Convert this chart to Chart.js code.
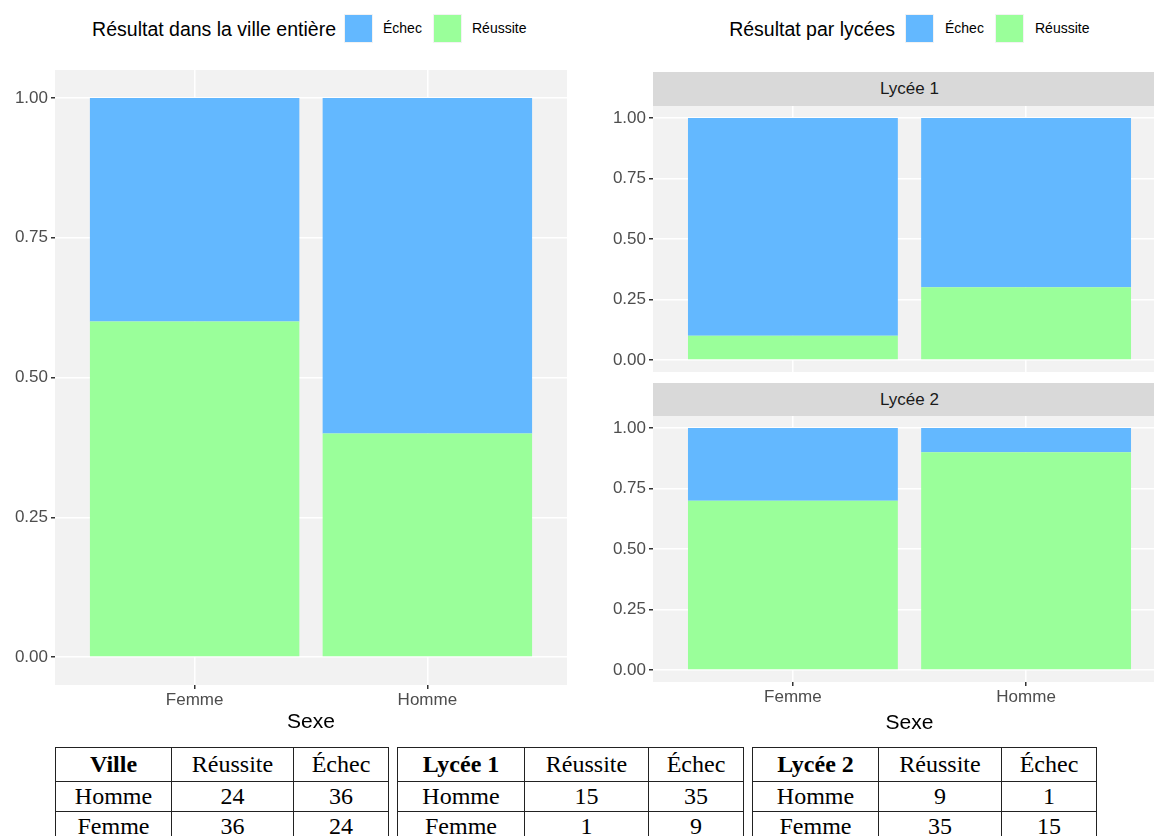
<!DOCTYPE html>
<html lang="fr">
  <head>
    <meta charset="UTF-8" />
    <title>Résultats par sexe</title>
    <script src="https://cdn.jsdelivr.net/npm/chart.js"></script>
    <style>
      html,
      body {
        margin: 0;
        width: 1154px;
        height: 836px;
        overflow: hidden;
        background: #fff;
        font-family: "Liberation Sans", Arial, sans-serif;
      }
      .box {
        position: absolute;
      }
      .ltitle {
        position: absolute;
        top: 16px;
        font-size: 19.5px;
        line-height: 26px;
        text-align: right;
        color: #000;
      }
      .key {
        position: absolute;
        top: 14px;
        width: 29px;
        height: 29px;
        box-sizing: border-box;
        border: 1px solid #f2f2f2;
      }
      .klab {
        position: absolute;
        top: 19px;
        font-size: 14px;
        line-height: 18px;
        color: #000;
      }
      .strip {
        position: absolute;
        left: 653px;
        width: 513px;
        height: 34px;
        line-height: 34px;
        background: #d9d9d9;
        color: #1a1a1a;
        font-size: 17px;
        text-align: center;
      }
      table {
        position: absolute;
        top: 747px;
        border-collapse: collapse;
        font-family: "Liberation Serif", "DejaVu Serif", serif;
        font-size: 24px;
        color: #000;
      }
      td {
        border: 1.3px solid #222;
        text-align: center;
        padding: 0;
        height: 29px;
        line-height: 29px;
      }
      tr:first-child td {
        height: 33px;
      }
      td.head {
        font-weight: bold;
      }
    </style>
  </head>
  <body>
    <!-- legends -->
    <div class="ltitle" style="left: 0; width: 336px">Résultat dans la ville entière</div>
    <div class="key" style="left: 344px; background: #63b8ff"></div>
    <div class="klab" style="left: 383px">Échec</div>
    <div class="key" style="left: 433px; background: #9aff9a"></div>
    <div class="klab" style="left: 472px">Réussite</div>

    <div class="ltitle" style="left: 600px; width: 295px">Résultat par lycées</div>
    <div class="key" style="left: 905px; background: #63b8ff"></div>
    <div class="klab" style="left: 945px">Échec</div>
    <div class="key" style="left: 995px; background: #9aff9a"></div>
    <div class="klab" style="left: 1035px">Réussite</div>

    <!-- charts -->
    <div class="box" style="left: 0; top: 70px; width: 567px; height: 665px">
      <canvas id="ville"></canvas>
    </div>
    <div class="strip" style="top: 72px">Lycée 1</div>
    <div class="box" style="left: 598px; top: 106px; width: 568px; height: 266px">
      <canvas id="lycee1"></canvas>
    </div>
    <div class="strip" style="top: 383px">Lycée 2</div>
    <div class="box" style="left: 598px; top: 416px; width: 568px; height: 320px">
      <canvas id="lycee2"></canvas>
    </div>

    <!-- tables -->
    <table id="tabVille" style="left: 55px"></table>
    <table id="tabL1" style="left: 397px"></table>
    <table id="tabL2" style="left: 752px"></table>

    <script>
      // données
      const sexes = ["Femme", "Homme"];
      const villeReussite = [0.6, 0.4];
      const villeEchec = [0.4, 0.6];
      const lycee1Reussite = [0.1, 0.3];
      const lycee1Echec = [0.9, 0.7];
      const lycee2Reussite = [0.7, 0.9];
      const lycee2Echec = [0.3, 0.1];
      const yTicks = [0, 0.25, 0.5, 0.75, 1];

      // tableaux d'effectifs
      const colonnes = ["Réussite", "Échec"];
      const tabVille = [["Homme", 24, 36], ["Femme", 36, 24]];
      const tabLycee1 = [["Homme", 15, 35], ["Femme", 1, 9]];
      const tabLycee2 = [["Homme", 9, 1], ["Femme", 35, 15]];

      const blue = "#63b8ff";
      const green = "#9aff9a";

      Chart.defaults.font.family = '"Liberation Sans", Arial, sans-serif';

      const panelBg = {
        id: "panelBg",
        beforeDraw(chart) {
          const { ctx, chartArea: a } = chart;
          ctx.save();
          ctx.fillStyle = "#f2f2f2";
          ctx.fillRect(a.left, a.top, a.right - a.left, a.bottom - a.top);
          ctx.restore();
        },
      };

      // pas de marge automatique autour des axes
      function noPad(ax) {
        ax.paddingTop = 0;
        ax.paddingBottom = 0;
        ax.paddingLeft = 0;
        ax.paddingRight = 0;
      }

      function makeChart(id, reussite, echec, withX, xHeight) {
        const grid = {
          color: "#ffffff",
          lineWidth: 1.5,
          tickColor: "#333333",
          tickLength: 4,
          tickWidth: 1.5,
          offset: false,
        };
        return new Chart(document.getElementById(id), {
          type: "bar",
          data: {
            datasets: [
              {
                label: "Réussite",
                data: reussite.map((v, i) => ({ x: i, y: v })),
                backgroundColor: green,
                barPercentage: 0.9,
                categoryPercentage: 1,
              },
              {
                label: "Échec",
                data: echec.map((v, i) => ({ x: i, y: v })),
                backgroundColor: blue,
                barPercentage: 0.9,
                categoryPercentage: 1,
              },
            ],
          },
          options: {
            responsive: true,
            maintainAspectRatio: false,
            animation: false,
            layout: { padding: 0 },
            plugins: {
              legend: { display: false },
              tooltip: { enabled: false },
            },
            scales: {
              x: {
                type: "linear",
                stacked: true,
                min: -0.6,
                max: 1.6,
                offset: false,
                grid: { ...grid, drawTicks: withX },
                border: { display: false },
                ticks: {
                  display: withX,
                  autoSkip: false,
                  maxRotation: 0,
                  padding: 1,
                  color: "#4d4d4d",
                  font: { size: 17 },
                  callback: (v) => sexes[v],
                },
                title: {
                  display: withX,
                  text: "Sexe",
                  color: "#000",
                  font: { size: 21 },
                  padding: 0,
                },
                afterBuildTicks: (ax) => {
                  ax.ticks = sexes.map((s, i) => ({ value: i }));
                },
                afterFit: (ax) => {
                  ax.height = xHeight;
                  noPad(ax);
                },
              },
              y: {
                stacked: true,
                min: -0.05,
                max: 1.05,
                grid: { ...grid },
                border: { display: false },
                ticks: {
                  padding: 3,
                  color: "#4d4d4d",
                  font: { size: 17 },
                  callback: (v) => v.toFixed(2),
                },
                afterBuildTicks: (ax) => {
                  ax.ticks = yTicks.map((v) => ({ value: v }));
                },
                afterFit: (ax) => {
                  ax.width = 55;
                  noPad(ax);
                },
              },
            },
          },
          plugins: [panelBg],
        });
      }

      makeChart("ville", villeReussite, villeEchec, true, 50);
      makeChart("lycee1", lycee1Reussite, lycee1Echec, false, 0);
      makeChart("lycee2", lycee2Reussite, lycee2Echec, true, 54);

      function fillTable(id, titre, lignes) {
        const t = document.getElementById(id);
        const widths = id === "tabVille" ? [115, 121, 94] : id === "tabL1" ? [126, 123, 94] : [125, 122, 94];
        let html = "<tr>";
        html += '<td class="head" style="width:' + widths[0] + 'px">' + titre + "</td>";
        colonnes.forEach((c, i) => {
          html += '<td style="width:' + widths[i + 1] + 'px">' + c + "</td>";
        });
        html += "</tr>";
        lignes.forEach((l) => {
          html += "<tr>" + l.map((v) => "<td>" + v + "</td>").join("") + "</tr>";
        });
        t.innerHTML = html;
      }

      fillTable("tabVille", "Ville", tabVille);
      fillTable("tabL1", "Lycée 1", tabLycee1);
      fillTable("tabL2", "Lycée 2", tabLycee2);
    </script>
  </body>
</html>
